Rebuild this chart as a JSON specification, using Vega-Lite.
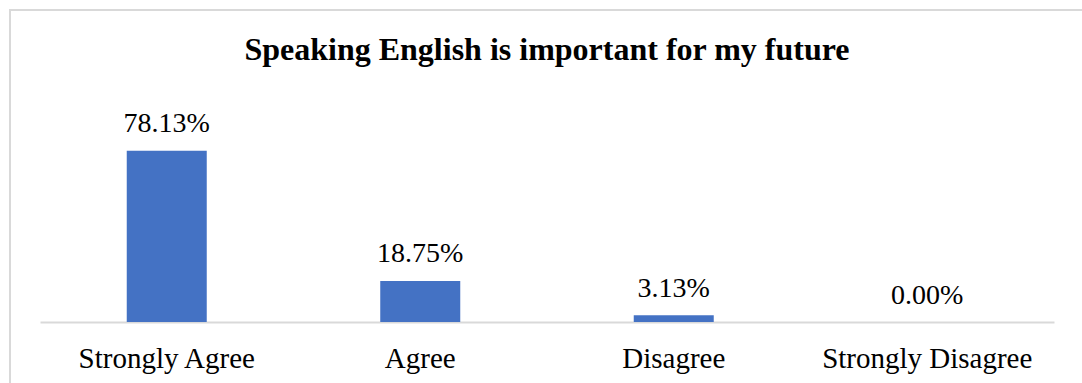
{
  "$schema": "https://vega.github.io/schema/vega-lite/v6.json",
  "autosize": "none",
  "width": 1074,
  "height": 375,
  "padding": {"left": 10, "top": 10, "right": -2, "bottom": -2},
  "background": "#ffffff",
  "title": {
    "text": "Speaking English is important for my future",
    "font": "Liberation Serif",
    "fontSize": 32,
    "fontWeight": "bold",
    "color": "#000000",
    "anchor": "middle",
    "baseline": "alphabetic",
    "offset": -82
  },
  "data": {
    "values": [
      {"response": "Strongly Agree", "share": 0.7813},
      {"response": "Agree", "share": 0.1875},
      {"response": "Disagree", "share": 0.0313},
      {"response": "Strongly Disagree", "share": 0.0}
    ]
  },
  "encoding": {
    "x": {
      "field": "response",
      "type": "nominal",
      "sort": null,
      "scale": {"range": [30, 1044], "paddingInner": 0.6844, "paddingOuter": 0.3422},
      "axis": {
        "title": null,
        "orient": "bottom",
        "offset": -63,
        "labelAngle": 0,
        "labelFont": "Liberation Serif",
        "labelFontSize": 29,
        "labelColor": "#000000",
        "labelBaseline": "alphabetic",
        "labelPadding": 45,
        "labelLimit": 0,
        "ticks": false,
        "tickSize": 0,
        "domainColor": "#d9d9d9",
        "domainWidth": 2,
        "grid": false
      }
    },
    "y": {
      "field": "share",
      "type": "quantitative",
      "scale": {"domain": [0, 1], "range": [312, 92.75]},
      "axis": null
    }
  },
  "layer": [
    {"mark": {"type": "bar", "color": "#4472C4"}},
    {
      "mark": {
        "type": "text",
        "font": "Liberation Serif",
        "fontSize": 28,
        "color": "#000000",
        "baseline": "alphabetic",
        "dy": -18.5
      },
      "encoding": {"text": {"field": "share", "type": "quantitative", "format": ".2%"}}
    }
  ],
  "config": {
    "view": {"stroke": "#d9d9d9", "strokeWidth": 2}
  }
}
